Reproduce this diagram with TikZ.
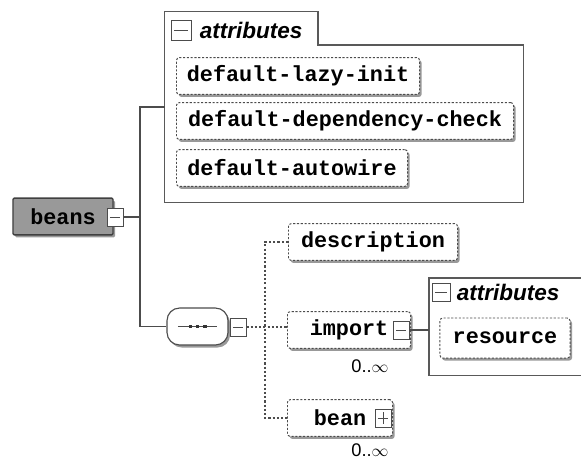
\documentclass[tikz,border=0pt]{standalone}
\usepackage{fontspec}
\setmainfont{Liberation Sans}
\setsansfont{Liberation Sans}
\setmonofont{Liberation Mono}
\usetikzlibrary{positioning, shadows}

\begin{document}
\begin{tikzpicture}[
    x=0.025cm, y=-0.025cm,
    conn/.style={draw=black!70, line width=0.9pt},
    dconn/.style={draw=black!70, line width=0.8pt, dash pattern=on 1.5pt off 1.5pt},
    elem/.style={draw=black!70, dash pattern=on 1.5pt off 1.2pt, line width=0.7pt,
                 fill=white, rounded corners=2pt, minimum height=0.92cm, inner xsep=6pt,
                 font=\fontsize{15.5}{17}\selectfont\ttfamily\bfseries,
                 drop shadow={shadow xshift=1.5pt, shadow yshift=-1.8pt,
                              fill=black!40, opacity=1}},
    seqbox/.style={draw=black!70, line width=0.8pt, fill=white, rounded corners=9pt,
                   minimum width=1.525cm, minimum height=0.925cm,
                   drop shadow={shadow xshift=1.5pt, shadow yshift=-1.8pt,
                                fill=black!40, opacity=1},
                   path picture={
                     \draw[black!70, line width=0.8pt, sharp corners]
                       ([xshift=-14pt]path picture bounding box.center)
                       -- ([xshift=14pt]path picture bounding box.center);
                     \foreach \d in {-5pt,0pt,5pt}
                       \fill[black!80, sharp corners]
                         ([xshift=\d]path picture bounding box.center)
                         +(-1.4pt,-1.4pt) rectangle +(1.4pt,1.4pt);
                   }},
    expm/.style={draw=black!70, fill=white, line width=0.7pt, inner sep=0pt,
                 minimum width=0.4cm, minimum height=0.45cm,
                 path picture={
                   \draw[line width=0.7pt]
                     ([xshift=2pt]path picture bounding box.west)
                     -- ([xshift=-2pt]path picture bounding box.east);
                 }},
    expp/.style={draw=black!70, fill=white, line width=0.7pt, inner sep=0pt,
                 minimum width=0.4cm, minimum height=0.45cm,
                 path picture={
                   \draw[line width=0.7pt]
                     ([xshift=2pt]path picture bounding box.west)
                     -- ([xshift=-2pt]path picture bounding box.east);
                   \draw[line width=0.7pt]
                     ([yshift=2pt]path picture bounding box.south)
                     -- ([yshift=-2pt]path picture bounding box.north);
                 }},
    grpline/.style={draw=black!65, line width=1.1pt},
    grp/.style={font=\fontsize{16}{18}\selectfont\sffamily\bfseries\itshape,
                inner sep=0pt, anchor=west},
    occ/.style={font=\fontsize{13}{15}\selectfont},
]

\useasboundingbox (0,0) rectangle (581,461);
\clip (0,0) rectangle (581,461);

% root element
\node[elem, solid, fill=black!40, draw=black!75, line width=1pt, rounded corners=1pt,
      minimum width=2.5cm] (beans) at (63,216.5) {beans};
\node[expm] (beansexp) at (115,217) {};
\coordinate (trunk) at (140,217);

% attributes of beans
\node[minimum width=8.95cm, minimum height=4.75cm, inner sep=0pt] (attrs) at (344,107) {};
\coordinate (tabend) at (318,45);
\draw[grpline] (attrs.north west) -- (attrs.north west -| tabend) -- (tabend)
    -- (tabend -| attrs.east) -- (attrs.south east) -- (attrs.south west) -- cycle;
\node[expm, minimum width=0.5cm, minimum height=0.5cm] (attrsexp) at (181,30) {};
\node[grp, right=0.2cm of attrsexp] (attrslbl) {attributes};

\node[elem, anchor=west, minimum width=6.075cm] (lazy) at (176,76) {default-lazy-init};
\node[elem, anchor=west, minimum width=8.425cm] (depchk) at (176,121) {default-dependency-check};
\node[elem, anchor=west, minimum width=5.775cm] (autow) at (176,168) {default-autowire};

% sequence
\node[seqbox] (seq) at (197.5,326.5) {};
\node[expm] (seqexp) at (238,327) {};
\coordinate (bus) at (265,327);

% children
\node[elem, anchor=west, minimum width=4.225cm] (desc) at (288,242) {description};

\node[elem, anchor=west, minimum width=3.075cm] (imp) at (287,330) {import};
\node[expm] (impexp) at ([xshift=-0.25cm]imp.east) {};
\node[occ] (impocc) at (370,366) {0..$\infty$};

\node[elem, anchor=west, minimum width=2.625cm] (bean) at (287,418) {bean};
\node[expp] (beanexp) at ([xshift=-0.25cm]bean.east) {};
\node[occ] (beanocc) at (370,450) {0..$\infty$};

% attributes of import (runs off the right edge)
\node[anchor=north west, minimum width=5.5cm, minimum height=2.425cm, inner sep=0pt]
    (impattrs) at (429,278) {};
\draw[grpline] (impattrs.north east) -- (impattrs.north west)
    -- (impattrs.south west) -- (impattrs.south east);
\node[expm, minimum width=0.45cm, minimum height=0.45cm] (impattrsexp) at (441,292) {};
\node[grp, right=0.15cm of impattrsexp] (impattrslbl) {attributes};
\node[elem, minimum width=3.25cm, minimum height=1.0cm] (res) at (505,338) {resource};

% connectors
\draw[conn] (beansexp.east) -- (trunk);
\draw[conn] (attrs.west) -| (trunk) |- (seq.west);
\draw[dconn] (seqexp.east) -- (seqexp.east -| imp.west);
\draw[dconn] (desc.west) -| (bus) |- (bean.west);
\draw[conn] (impexp.east) -- (impexp.east -| impattrs.west);

\end{tikzpicture}
\end{document}
